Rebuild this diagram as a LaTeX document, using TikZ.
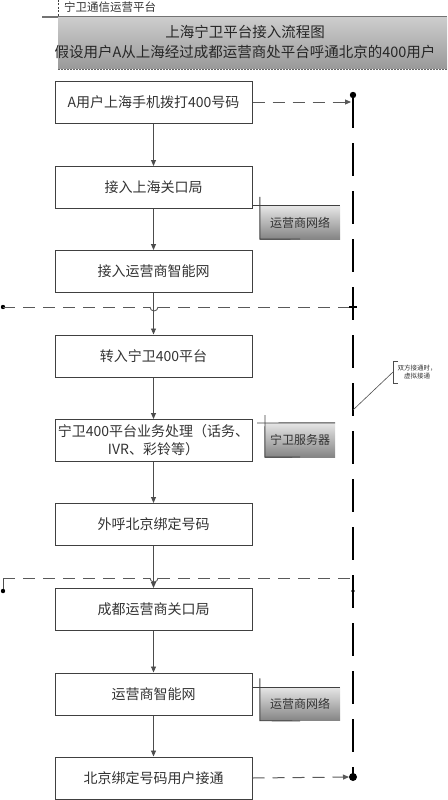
\documentclass[tikz,border=0pt]{standalone}
\usepackage{fontspec}
\newfontfamily\cjk{Noto Sans CJK SC}
\usetikzlibrary{arrows.meta}
\begin{document}
\begin{tikzpicture}[x=1pt,y=-1pt,font=\cjk,
  stepbox/.style={draw=black!75,line width=1pt,minimum width=197pt,minimum height=42pt,inner sep=0pt,
    font=\cjk\fontsize{14}{18}\selectfont,text=black!80,align=center},
  flow/.style={draw=black!70,line width=0.9pt,-{Triangle[length=6pt,width=5pt]}},
  hdash/.style={draw=black!65,line width=1pt,dash pattern=on 12pt off 8pt},
  vdash/.style={draw=black,line width=2.2pt,dash pattern=on 33pt off 15pt},
  lblbox/.style={minimum width=80pt,minimum height=33pt,inner sep=0pt,top color=black!10,bottom color=black!48,
    font=\cjk\fontsize{12}{14}\selectfont,text=black!80},
  callout/.style={draw=black!75,line width=0.9pt}]
\useasboundingbox (0,0) rectangle (447,800);
% header
\node[anchor=base west,font=\cjk\fontsize{11.5}{13}\selectfont,text=black!80,inner sep=0pt] (hdr) at (64,12) {宁卫通信运营平台};
\draw[black!75,line width=0.8pt,dash pattern=on 2pt off 1.5pt] (58,0) -- (58,17);
\draw[black!55,line width=1.6pt] (42,17) -- (447,17);
\fill[top color=black!20,bottom color=black!40] (58,18) rectangle (447,69);
\draw[black!60,line width=0.8pt,dash pattern=on 2pt off 1pt] (58,69) -- (447,69);
\node[align=center,font=\cjk\fontsize{14.5}{20}\selectfont,text=black!85] (title) at (245,42) {上海宁卫平台接入流程图\\假设用户A从上海经过成都运营商处平台呼通北京的400用户};
% boxes
\node[stepbox] (b1) at (153.5,102) {A用户上海手机拨打400号码};
\node[stepbox] (b2) at (153.5,187.5) {接入上海关口局};
\node[stepbox] (b3) at (153.5,271.5) {接入运营商智能网};
\node[stepbox] (b4) at (153.5,356) {转入宁卫400平台};
\node[stepbox] (b5) at (153.5,440.5) {宁卫400平台业务处理（话务、\\IVR、彩铃等）};
\node[stepbox] (b6) at (153.5,524.5) {外呼北京绑定号码};
\node[stepbox] (b7) at (153.5,609.5) {成都运营商关口局};
\node[stepbox] (b8) at (153.5,694) {运营商智能网};
\node[stepbox] (b9) at (153.5,778) {北京绑定号码用户接通};
\foreach \a/\b in {b1/b2,b2/b3,b3/b4,b4/b5,b5/b6,b6/b7,b7/b8,b8/b9}
  \draw[flow] (\a.south) -- (\b.north);
% right virtual line
\coordinate (rtop) at (353,95);
\coordinate (rbot) at (353,777);
\draw[vdash] (rtop) -- (rbot);
\fill (rtop) circle (3.2);
\fill (rbot) circle (4);
\draw[hdash,-{Triangle[length=6pt,width=5pt]}] (b1.east) -- (351,102);
\draw[hdash,-{Triangle[length=6pt,width=5pt]}] (b9.east) -- (349,777);
% horizontal dashed lines
\coordinate (l1) at (3,307);
\coordinate (l2) at (3,578);
\fill (l1) circle (2.2);
\draw[hdash] (l1) -- (150,307);
\draw[black!70,line width=0.8pt] (150,307) arc[start angle=180,end angle=0,radius=4];
\draw[hdash] (158,307) -- (353,307);
\draw[black,line width=1.2pt] (349,307) -- (357,307);
\draw[black!70,line width=1pt] (3,591) -- (l2);
\fill (3,591) circle (2.2);
\draw[hdash] (l2) -- (150,578);
\draw[black!70,line width=0.8pt] (150,578) arc[start angle=180,end angle=0,radius=4];
\draw[hdash] (158,578) -- (353,578);
\fill (353,591) circle (1.8);
% callouts
\node[lblbox] (n1) at (300,222.5) {运营商网络};
\draw[callout] (b2.east |- n1.north) -- (n1.north east);
\draw[callout] (n1.north west) ++(0,-9) -- (n1.south west) -- (300,239);
\node[lblbox,minimum width=70pt,minimum height=34pt] (n2) at (300,440) {宁卫服务器};
\draw[callout] (257,423) -- (n2.north east);
\draw[callout] (265,415) -- (n2.south west) -- (300,457);
\node[lblbox] (n3) at (300,704) {运营商网络};
\draw[callout] (b8.east |- n3.north) -- (n3.north east);
\draw[callout] (n3.north west) ++(0,-9) -- (n3.south west) -- (300,721);
% annotation
\node[align=center,font=\cjk\fontsize{6.5}{8}\selectfont,text=black!80,inner sep=0pt] (ann) at (417,372) {双方接通时，\\虚拟接通};
\draw[black!70,line width=0.6pt] (398,361) -- (393,361) -- (393,383) -- (398,383);
\coordinate (annp) at (393,372);
\draw[black!70,line width=0.6pt] (353,410) -- (annp);
\end{tikzpicture}
\end{document}
